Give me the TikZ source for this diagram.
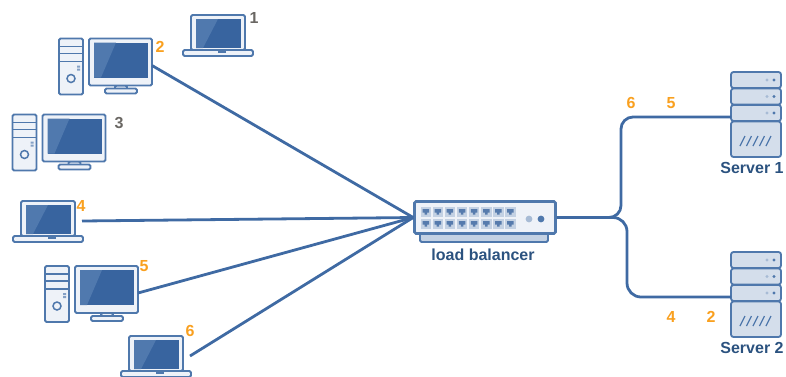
\documentclass[tikz,border=0pt]{standalone}
\usepackage{fontspec}
\setmainfont{Liberation Sans}

\definecolor{edgeblue}{HTML}{4F78AC}
\definecolor{linkblue}{HTML}{3F6AA3}
\definecolor{screenblue}{HTML}{38649F}
\definecolor{glossblue}{HTML}{5079AE}
\definecolor{bodyblue}{HTML}{EEF2F8}
\definecolor{paleblue}{HTML}{D4DEEB}
\definecolor{portblue}{HTML}{C3D1E3}
\definecolor{numorange}{HTML}{F9A01F}
\definecolor{numgray}{HTML}{6A6763}
\definecolor{textblue}{HTML}{2B527F}

\tikzset{
  part/.style={draw=edgeblue,line width=1.8pt,rounded corners=1.5pt,fill=bodyblue},
  link/.style={draw=linkblue,line width=2.8pt},
  num/.style={font=\fontsize{16}{16}\selectfont\bfseries,inner sep=0pt},
  caption/.style={font=\fontsize{16}{16}\selectfont\bfseries,text=textblue,inner sep=0pt},
  switchbox/.style={part,line width=2.6pt,minimum width=141pt,minimum height=32pt,inner sep=0pt},
  pics/laptop/.style={code={
    \draw[part] (0,0) rectangle (54,35);
    \fill[screenblue] (5,4) rectangle (50,33);
    \fill[glossblue] (5,4) -- (27,4) -- (12,33) -- (5,33) -- cycle;
    \draw[part] (-8,35) rectangle (62,41);
    \fill[edgeblue] (27,35.5) rectangle (35,37.5);
    \coordinate (-out) at (61,20);
  }},
  pics/desktop/.style={code={
    \draw[part] (0,0) rectangle (24,56);
    \draw[edgeblue,line width=1.5pt] (0,8) -- (24,8) (0,15) -- (24,15) (0,23) -- (24,23);
    \draw[edgeblue,line width=1.5pt] (12,40) circle (4);
    \fill[edgeblue!70] (18,27) rectangle (21,29) (18,30) rectangle (21,32);
    \draw[part] (56,47) rectangle (68,52);
    \draw[part] (46,50) rectangle (78,55);
    \draw[part] (30,0) rectangle (93,47);
    \fill[screenblue] (35,4) rectangle (89,39);
    \fill[glossblue] (35,4) -- (57,4) -- (42,39) -- (35,39) -- cycle;
    \coordinate (-out) at (93,27);
  }},
  pics/server/.style={code={
    \foreach \y/\h in {0/16,16.5/16,33/16}
    { \draw[part,fill=paleblue,rounded corners=2.5pt] (0,\y) rectangle (50,\y+\h);
      \fill[edgeblue!50] (36,\y+8) circle (1.7);
      \fill[edgeblue] (43,\y+8) circle (1.7); }
    \draw[part,fill=paleblue,rounded corners=2.5pt] (0,49.5) rectangle (50,85);
    \foreach \x in {9,15.5,22,28.5,35}
      \draw[edgeblue,line width=1.2pt] (\x,74) -- (\x+5,64);
    \coordinate (-in) at (0,45);
  }},
}

\begin{document}
\begin{tikzpicture}[x=1pt,y=-1pt]
  \useasboundingbox (0,0) rectangle (786,376);

  \pic (lap1) at (191,15) {laptop};
  \pic (desk2) at (59,38.5) {desktop};
  \pic (desk3) at (12.5,114.5) {desktop};
  \pic (lap4) at (21,201) {laptop};
  \pic (desk5) at (45,266) {desktop};
  \pic (lap6) at (129,336) {laptop};

  \pic (srv1) at (731,72) {server};
  \pic (srv2) at (731,252) {server};

  % load balancer box with its ports
  \draw[part,fill=portblue] (420,228) rectangle (548,242);
  \node[switchbox] (lb) at (485,217.5) {};
  \foreach \x in {0,...,7}
  { \foreach \y in {212,224}
    { \fill[portblue] (420.5+\x*12.1,\y-5) rectangle +(10.5,10);
      \fill[screenblue!85] (422.5+\x*12.1,\y-3) -- +(6.5,0) -- +(6.5,3.5) -- +(4.5,3.5)
        -- +(4.5,5.5) -- +(2,5.5) -- +(2,3.5) -- +(0,3.5) -- cycle; } }
  \fill[edgeblue!50] (529,219) circle (3.4);
  \fill[edgeblue] (541,219) circle (3.4);

  \node[caption] (lbname) at (483,255) {load balancer};
  \node[caption] (srv1name) at (752,167.5) {Server 1};
  \node[caption] (srv2name) at (752,347.5) {Server 2};

  \coordinate (bendup) at (621,117);
  \coordinate (benddown) at (627,297);

  \draw[link] (desk2-out) -- (lb.west);
  \draw[link] (lap4-out) -- (lb.west);
  \draw[link] (desk5-out) -- (lb.west);
  \draw[link] (lap6-out) -- (lb.west);
  \draw[link,rounded corners=12pt] (lb.east) -| (bendup) -- (srv1-in);
  \draw[link,rounded corners=14pt] (lb.east) -| (benddown) -- (srv2-in);

  \node[num,text=numgray] (n1) at (254,18) {1};
  \node[num,text=numorange] (n2) at (160,47) {2};
  \node[num,text=numgray] (n3) at (119,123) {3};
  \node[num,text=numorange] (n4) at (81,206) {4};
  \node[num,text=numorange] (n5) at (144,266) {5};
  \node[num,text=numorange] (n6) at (190,331) {6};

  \node[num,text=numorange] (r6) at (631,103) {6};
  \node[num,text=numorange] (r5) at (671,103) {5};
  \node[num,text=numorange] (r4) at (671,317) {4};
  \node[num,text=numorange] (r2) at (711,317) {2};
\end{tikzpicture}
\end{document}
